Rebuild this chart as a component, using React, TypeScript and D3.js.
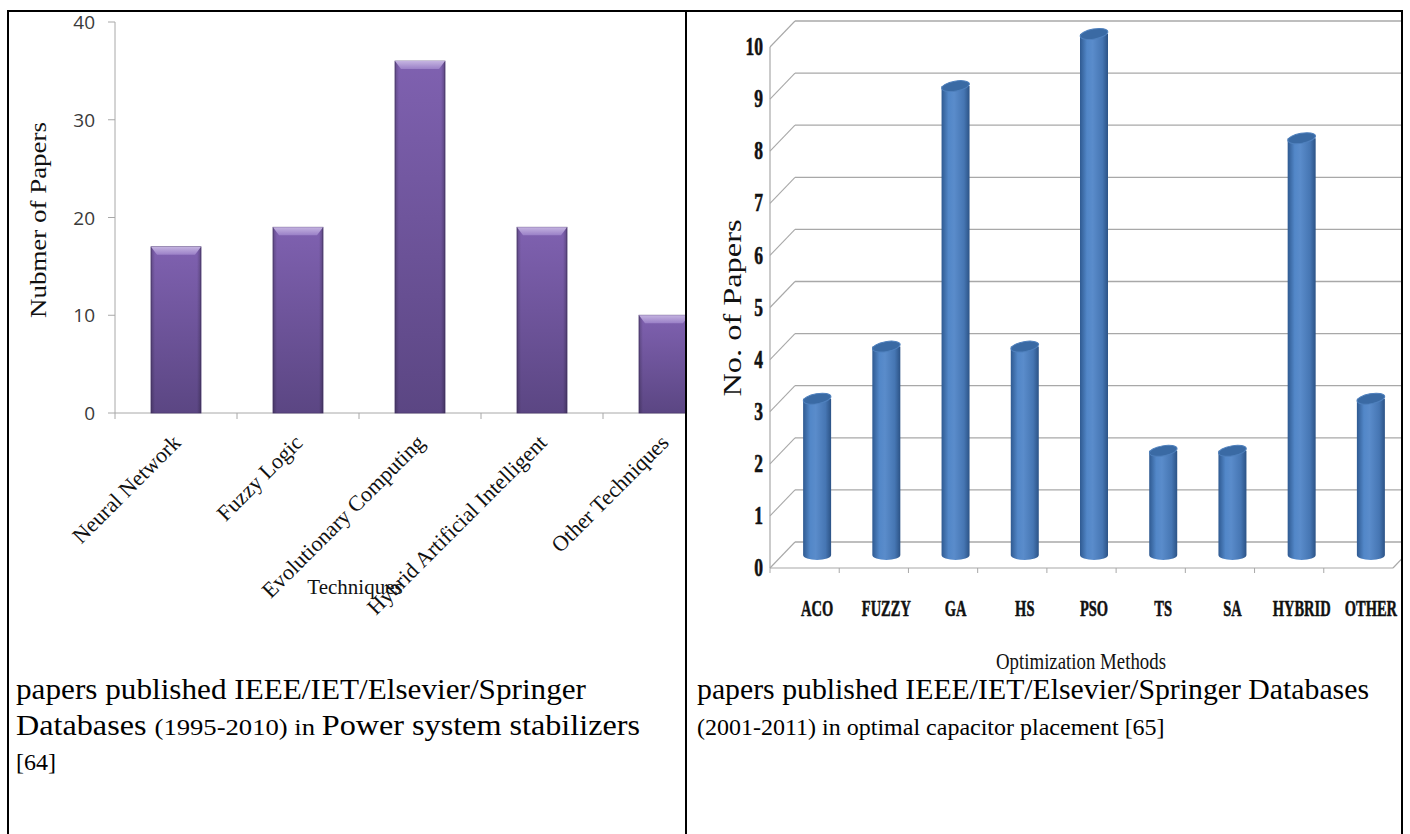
import React from "react";
import * as d3 from "d3";

const leftCategories = [
  "Neural Network",
  "Fuzzy Logic",
  "Evolutionary Computing",
  "Hybrid Artificial Intelligent",
  "Other Techniques",
];
const leftValues = [17, 19, 36, 19, 10];
const leftTicks = [0, 10, 20, 30, 40];

const rightCategories = ["ACO", "FUZZY", "GA", "HS", "PSO", "TS", "SA", "HYBRID", "OTHER"];
const rightValues = [3, 4, 9, 4, 10, 2, 2, 8, 3];
const rightTicks = [0, 1, 2, 3, 4, 5, 6, 7, 8, 9, 10];

// caption runs: [text, isSmall]
const leftCaption: [string, boolean][][] = [
  [["papers published IEEE/IET/Elsevier/Springer", false]],
  [["Databases ", false], ["(1995-2010) in ", true], ["Power system stabilizers", false]],
  [["[64]", true]],
];
const rightCaption: [string, boolean][][] = [
  [["papers published IEEE/IET/Elsevier/Springer Databases", false]],
  [["(2001-2011) in optimal capacitor placement [65]", true]],
];
const leftCaptionWidths = [570, 624, null];
const rightCaptionWidths = [672, null];

const SERIF = "'Liberation Serif', 'Times New Roman', serif";

export default function App() {
  const xL = d3.scaleBand<string>().domain(leftCategories).range([115, 725]).paddingInner(0.59).paddingOuter(0.295);
  const yL = d3.scaleLinear().domain([0, 40]).range([413, 22]);
  const stepL = xL.step();

  const xR = d3.scaleBand<string>().domain(rightCategories).range([770, 1393]).paddingInner(0.6).paddingOuter(0.3);
  const yR = d3.scaleLinear().domain([0, 10]).range([568, 47]);
  const DX = 25;
  const DY = -26;
  const rx = 14;
  const ry = 5;
  const frontLeft = 770;
  const frontRight = 1393;

  const gridColor = "#a8a8a8";

  const renderCaption = (lines: [string, boolean][][], widths: (number | null)[], x: number) =>
    lines.map((runs, i) => {
      const w = widths[i];
      const extra = w ? { textLength: w, lengthAdjust: "spacingAndGlyphs" } : {};
      return (
        <text key={i} x={x} y={699 + i * 35.5} fontFamily={SERIF} fontSize={29} fill="#000" {...extra}>
          {runs.map(([t, small], j) => (
            <tspan key={j} fontSize={small ? 24 : 29}>
              {t}
            </tspan>
          ))}
        </text>
      );
    });

  return (
    <svg
      width={1410}
      height={834}
      style={{ position: "absolute", left: 0, top: 0, background: "#fff" }}
      xmlns="http://www.w3.org/2000/svg"
    >
      <defs>
        <linearGradient id="barV" x1="0" y1="0" x2="0" y2="1">
          <stop offset="0%" stopColor="#7f61b0" />
          <stop offset="100%" stopColor="#5b4683" />
        </linearGradient>
        <linearGradient id="barH" x1="0" y1="0" x2="1" y2="0">
          <stop offset="0%" stopColor="#000" stopOpacity={0.22} />
          <stop offset="8%" stopColor="#000" stopOpacity={0.0} />
          <stop offset="92%" stopColor="#000" stopOpacity={0.0} />
          <stop offset="100%" stopColor="#000" stopOpacity={0.25} />
        </linearGradient>
        <linearGradient id="bevel" x1="0" y1="0" x2="0" y2="1">
          <stop offset="0%" stopColor="#c4b3e0" />
          <stop offset="100%" stopColor="#9a80c7" />
        </linearGradient>
        <linearGradient id="cyl" x1="0" y1="0" x2="1" y2="0">
          <stop offset="0%" stopColor="#2f5a91" />
          <stop offset="25%" stopColor="#5287c8" />
          <stop offset="45%" stopColor="#5a8ccb" />
          <stop offset="80%" stopColor="#4676b3" />
          <stop offset="100%" stopColor="#2c5386" />
        </linearGradient>
        <clipPath id="clipLeft">
          <rect x={9} y={12} width={676} height={822} />
        </clipPath>
        <clipPath id="clipRight">
          <rect x={687} y={12} width={714} height={822} />
        </clipPath>
      </defs>

      {/* ---------------- Left chart ---------------- */}
      <g clipPath="url(#clipLeft)">
        <line x1={115} x2={115} y1={yL(40)} y2={yL(0)} stroke={gridColor} strokeWidth={1} />
        {leftTicks.map((t) => (
          <g key={t}>
            <line x1={108} x2={115} y1={yL(t)} y2={yL(t)} stroke={gridColor} strokeWidth={1} />
            <text
              x={95}
              y={yL(t)}
              textAnchor="end"
              dominantBaseline="central"
              fontFamily="'Open Sans', sans-serif"
              fontSize={19}
              fill="#3a3a3a"
            >
              {t}
            </text>
          </g>
        ))}
        <line x1={115} x2={725} y1={yL(0)} y2={yL(0)} stroke={gridColor} strokeWidth={1} />
        {leftCategories.map((c, i) => {
          const bx = 115 + stepL * i;
          return <line key={c} x1={bx} x2={bx} y1={yL(0)} y2={yL(0) + 6} stroke={gridColor} strokeWidth={1} />;
        })}
        {leftCategories.map((c, i) => {
          const x = xL(c)!;
          const w = xL.bandwidth();
          const top = yL(leftValues[i]);
          const h = yL(0) - top;
          return (
            <g key={c}>
              <rect x={x} y={top} width={w} height={h} fill="url(#barV)" stroke="#4e3b73" strokeWidth={0.8} />
              <rect x={x} y={top} width={w} height={h} fill="url(#barH)" />
              <polygon
                points={`${x},${top} ${x + w},${top} ${x + w - 6},${top + 8} ${x + 6},${top + 8}`}
                fill="url(#bevel)"
              />
            </g>
          );
        })}
        {leftCategories.map((c) => {
          const cx = xL(c)! + xL.bandwidth() / 2;
          return (
            <text
              key={c}
              transform={`translate(${cx + 6},${444}) rotate(-45)`}
              textAnchor="end"
              fontFamily={SERIF}
              fontSize={22}
              fill="#111"
            >
              {c}
            </text>
          );
        })}
        <text x={355} y={594} textAnchor="middle" fontFamily={SERIF} fontSize={21} fill="#111">
          Techniques
        </text>
        <text
          transform={`translate(46,220) rotate(-90)`}
          textAnchor="middle"
          fontFamily={SERIF}
          fontSize={23}
          fill="#111"
          textLength={196}
          lengthAdjust="spacingAndGlyphs"
        >
          Nubmer of Papers
        </text>
      </g>

      {/* ---------------- Right chart ---------------- */}
      <g clipPath="url(#clipRight)">
        {rightTicks.map((t) => (
          <g key={t}>
            <line x1={frontLeft + DX} x2={frontRight + DX} y1={yR(t) + DY} y2={yR(t) + DY} stroke={gridColor} strokeWidth={1.3} />
            <line x1={frontLeft} x2={frontLeft + DX} y1={yR(t)} y2={yR(t) + DY} stroke={gridColor} strokeWidth={1.1} />
          </g>
        ))}
        <line x1={frontLeft} x2={frontLeft} y1={yR(10)} y2={yR(0)} stroke={gridColor} strokeWidth={1.2} />
        <line x1={frontLeft} x2={frontRight} y1={yR(0)} y2={yR(0)} stroke={gridColor} strokeWidth={1.2} />
        <line x1={frontRight} x2={frontRight + DX} y1={yR(0)} y2={yR(0) + DY} stroke={gridColor} strokeWidth={1.2} />
        {rightCategories.map((c, i) => {
          const bx = frontLeft + xR.step() * i;
          return <line key={c} x1={bx} x2={bx} y1={yR(0)} y2={yR(0) + 5} stroke={gridColor} strokeWidth={1} />;
        })}
        {rightCategories.map((c, i) => {
          const cx = xR(c)! + xR.bandwidth() / 2 + DX / 2;
          const top = yR(rightValues[i]) + DY / 2;
          const bot = yR(0) + DY / 2;
          const d = `M${cx - rx},${top} L${cx - rx},${bot} A${rx},${ry} 0 0 0 ${cx + rx},${bot} L${cx + rx},${top} Z`;
          return (
            <g key={c}>
              <path d={d} fill="url(#cyl)" />
              <ellipse
                cx={cx}
                cy={top}
                rx={rx}
                ry={ry}
                transform={`rotate(-10,${cx},${top})`}
                fill="#3a6aa4"
                stroke="#4f80bd"
                strokeWidth={1}
              />
            </g>
          );
        })}
        {rightTicks.map((t) => (
          <text
            key={t}
            transform={`translate(763,${yR(t)}) scale(0.7,1)`}
            textAnchor="end"
            dominantBaseline="central"
            fontFamily={SERIF}
            fontWeight="bold"
            fontSize={25}
            fill="#111"
            stroke="#111"
            strokeWidth={0.6}
          >
            {t}
          </text>
        ))}
        {rightCategories.map((c) => {
          const cx = xR(c)! + xR.bandwidth() / 2 + DX / 2;
          return (
            <text
              key={c}
              transform={`translate(${cx},616) scale(0.63,1)`}
              textAnchor="middle"
              fontFamily={SERIF}
              fontWeight="bold"
              fontSize={23}
              fill="#111"
              stroke="#111"
              strokeWidth={0.5}
            >
              {c}
            </text>
          );
        })}
        <text
          x={1081}
          y={669}
          textAnchor="middle"
          fontFamily={SERIF}
          fontSize={23}
          fill="#111"
          textLength={170}
          lengthAdjust="spacingAndGlyphs"
        >
          Optimization Methods
        </text>
        <text
          transform={`translate(741,308) rotate(-90)`}
          textAnchor="middle"
          fontFamily={SERIF}
          fontSize={25}
          fill="#111"
          textLength={177}
          lengthAdjust="spacingAndGlyphs"
        >
          No. of Papers
        </text>
      </g>

      {/* ---------------- Captions ---------------- */}
      {renderCaption(leftCaption, leftCaptionWidths, 16)}
      {renderCaption(rightCaption, rightCaptionWidths, 697)}

      {/* ---------------- Table borders ---------------- */}
      <line x1={7} x2={1403} y1={11} y2={11} stroke="#000" strokeWidth={2} />
      <line x1={8} x2={8} y1={10} y2={834} stroke="#000" strokeWidth={2} />
      <line x1={686} x2={686} y1={10} y2={834} stroke="#000" strokeWidth={2} />
      <line x1={1402} x2={1402} y1={10} y2={834} stroke="#000" strokeWidth={2} />
    </svg>
  );
}
